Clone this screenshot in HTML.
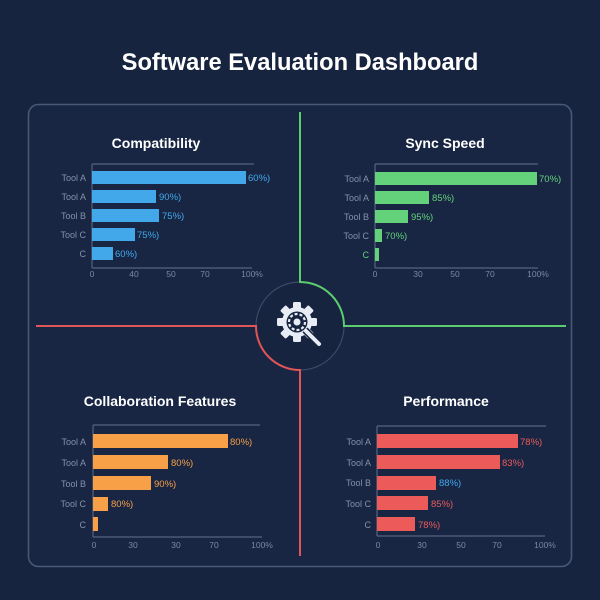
<!DOCTYPE html>
<html><head><meta charset="utf-8"><style>
html,body{margin:0;padding:0;background:#172440;}
svg{display:block;font-family:"Liberation Sans",sans-serif;}
</style></head><body>
<svg width="600" height="600" viewBox="0 0 600 600">
<rect width="600" height="600" fill="#172440"/>
<text x="300" y="70" text-anchor="middle" font-size="23.7" font-weight="bold" fill="#ffffff">Software Evaluation Dashboard</text>
<rect x="28.5" y="104.5" width="543" height="462" rx="10" fill="#182644" stroke="#4a5a75" stroke-width="1.5"/>

<circle cx="300" cy="326" r="44" fill="#172440" stroke="#3c4a66" stroke-width="1.2"/>
<!-- dividers -->
<path d="M300 112 V282 A44 44 0 0 1 344 326 H566" fill="none" stroke="#5ccc6e" stroke-width="2"/>
<path d="M36 326 H256 A44 44 0 0 0 300 370 V556" fill="none" stroke="#e05555" stroke-width="2"/>
<!-- gear icon -->
<g transform="translate(297,322)" fill="#e8edf5">
 <circle r="15"/>
 <g>
  <rect x="-4" y="-20" width="8" height="8" rx="1.5"/>
  <rect x="-4" y="12" width="8" height="8" rx="1.5"/>
  <rect x="-20" y="-4" width="8" height="8" rx="1.5"/>
  <rect x="12" y="-4" width="8" height="8" rx="1.5"/>
  <g transform="rotate(45)"><rect x="-4" y="-20" width="8" height="8" rx="1.5"/><rect x="-4" y="12" width="8" height="8" rx="1.5"/><rect x="-20" y="-4" width="8" height="8" rx="1.5"/><rect x="12" y="-4" width="8" height="8" rx="1.5"/></g>
 </g>
 <circle r="10.5" fill="#172440"/>
 <circle r="8" fill="none" stroke="#e8edf5" stroke-width="2.2" stroke-dasharray="3 2"/>
 <circle r="3.5"/>
 <line x1="8" y1="8" x2="22" y2="22" stroke="#172440" stroke-width="7"/>
 <line x1="9" y1="9" x2="22" y2="22" stroke="#e8edf5" stroke-width="4" stroke-linecap="round"/>
</g>

<!-- Q1 Compatibility -->
<text x="156" y="148" text-anchor="middle" font-size="14" font-weight="bold" fill="#fff">Compatibility</text>
<g stroke="#55647e" stroke-width="1.2"><line x1="92" y1="164" x2="254" y2="164"/><line x1="92" y1="164" x2="92" y2="268"/><line x1="92" y1="268" x2="252" y2="268"/></g>
<g fill="#42a8ea">
<rect x="92" y="171" width="154" height="13"/><rect x="92" y="190" width="64" height="13"/><rect x="92" y="209" width="67" height="13"/><rect x="92" y="228" width="43" height="13"/><rect x="92" y="247" width="21" height="13"/></g>
<g font-size="9" fill="#8391a8" text-anchor="end"><text x="86" y="181">Tool A</text><text x="86" y="200">Tool A</text><text x="86" y="219">Tool B</text><text x="86" y="238">Tool C</text><text x="86" y="257">C</text></g>
<g font-size="9.5" fill="#42a8ea"><text x="248" y="181">60%)</text><text x="159" y="200">90%)</text><text x="162" y="219">75%)</text><text x="137" y="238">75%)</text><text x="115" y="257">60%)</text></g>
<g font-size="8.5" fill="#7a889f" text-anchor="middle"><text x="92" y="277">0</text><text x="134" y="277">40</text><text x="171" y="277">50</text><text x="205" y="277">70</text><text x="252" y="277">100%</text></g>

<!-- Q2 Sync Speed -->
<text x="445" y="148" text-anchor="middle" font-size="14" font-weight="bold" fill="#fff">Sync Speed</text>
<g stroke="#55647e" stroke-width="1.2"><line x1="375" y1="164" x2="538" y2="164"/><line x1="375" y1="164" x2="375" y2="268"/><line x1="375" y1="268" x2="538" y2="268"/></g>
<g fill="#64d27a">
<rect x="375" y="172" width="162" height="13"/><rect x="375" y="191" width="54" height="13"/><rect x="375" y="210" width="33" height="13"/><rect x="375" y="229" width="7" height="13"/><rect x="375" y="248" width="4" height="13"/></g>
<g font-size="9" fill="#8391a8" text-anchor="end"><text x="369" y="182">Tool A</text><text x="369" y="201">Tool A</text><text x="369" y="220">Tool B</text><text x="369" y="239">Tool C</text><text x="369" y="258" fill="#64d27a">C</text></g>
<g font-size="9.5" fill="#64d27a"><text x="539" y="182">70%)</text><text x="432" y="201">85%)</text><text x="411" y="220">95%)</text><text x="385" y="239">70%)</text></g>
<g font-size="8.5" fill="#7a889f" text-anchor="middle"><text x="375" y="277">0</text><text x="418" y="277">30</text><text x="455" y="277">50</text><text x="490" y="277">70</text><text x="538" y="277">100%</text></g>

<!-- Q3 Collaboration -->
<text x="160" y="406" text-anchor="middle" font-size="14" font-weight="bold" fill="#fff">Collaboration Features</text>
<g stroke="#55647e" stroke-width="1.2"><line x1="93" y1="425" x2="260" y2="425"/><line x1="93" y1="425" x2="93" y2="537"/><line x1="93" y1="537" x2="262" y2="537"/></g>
<g fill="#f7a047">
<rect x="93" y="434" width="135" height="14"/><rect x="93" y="455" width="75" height="14"/><rect x="93" y="476" width="58" height="14"/><rect x="93" y="497" width="15" height="14"/><rect x="93" y="517" width="5" height="14"/></g>
<g font-size="9" fill="#8391a8" text-anchor="end"><text x="86" y="445">Tool A</text><text x="86" y="466">Tool A</text><text x="86" y="487">Tool B</text><text x="86" y="507">Tool C</text><text x="86" y="528">C</text></g>
<g font-size="9.5" fill="#f7a047"><text x="230" y="445">80%)</text><text x="171" y="466">80%)</text><text x="154" y="487">90%)</text><text x="111" y="507">80%)</text></g>
<g font-size="8.5" fill="#7a889f" text-anchor="middle"><text x="94" y="548">0</text><text x="133" y="548">30</text><text x="176" y="548">30</text><text x="214" y="548">70</text><text x="262" y="548">100%</text></g>

<!-- Q4 Performance -->
<text x="446" y="406" text-anchor="middle" font-size="14" font-weight="bold" fill="#fff">Performance</text>
<g stroke="#55647e" stroke-width="1.2"><line x1="377" y1="426" x2="546" y2="426"/><line x1="377" y1="426" x2="377" y2="536"/><line x1="377" y1="536" x2="545" y2="536"/></g>
<g fill="#ec5a5a">
<rect x="377" y="434" width="141" height="14"/><rect x="377" y="455" width="123" height="14"/><rect x="377" y="476" width="59" height="14"/><rect x="377" y="496" width="51" height="14"/><rect x="377" y="517" width="38" height="14"/></g>
<g font-size="9" fill="#8391a8" text-anchor="end"><text x="371" y="445">Tool A</text><text x="371" y="466">Tool A</text><text x="371" y="486">Tool B</text><text x="371" y="507">Tool C</text><text x="371" y="528">C</text></g>
<g font-size="9.5" fill="#ec5a5a"><text x="520" y="445">78%)</text><text x="502" y="466">83%)</text><text x="439" y="486" fill="#42a8ea">88%)</text><text x="431" y="507">85%)</text><text x="418" y="528">78%)</text></g>
<g font-size="8.5" fill="#7a889f" text-anchor="middle"><text x="378" y="548">0</text><text x="422" y="548">30</text><text x="461" y="548">50</text><text x="497" y="548">70</text><text x="545" y="548">100%</text></g>
</svg>
</body></html>
